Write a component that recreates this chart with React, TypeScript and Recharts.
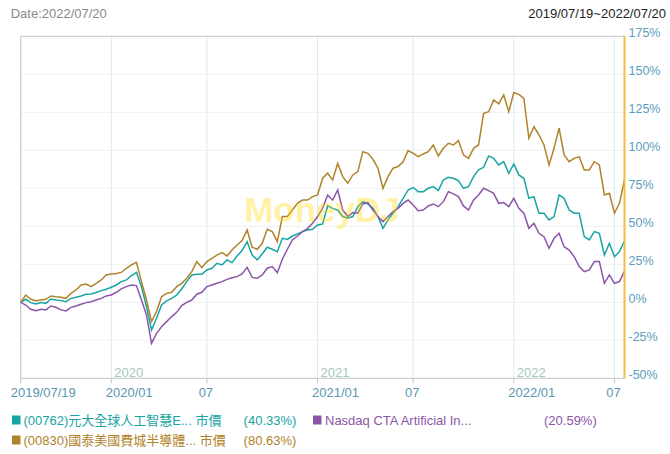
import React from "react";
import { LineChart, Line, XAxis, YAxis, CartesianGrid, ReferenceLine } from "recharts";

const dates = [
  "2019/07/19","2019/07/29","2019/08/07","2019/08/16","2019/08/26","2019/09/04","2019/09/13","2019/09/23","2019/10/02","2019/10/11",
  "2019/10/21","2019/10/30","2019/11/08","2019/11/18","2019/11/27","2019/12/06","2019/12/16","2019/12/24","2020/01/02","2020/01/13",
  "2020/01/21","2020/02/05","2020/02/13","2020/02/21","2020/03/03","2020/03/11","2020/03/19","2020/03/27","2020/04/08","2020/04/16",
  "2020/04/24","2020/05/05","2020/05/13","2020/05/21","2020/06/01","2020/06/09","2020/06/18","2020/07/01","2020/07/09","2020/07/17",
  "2020/07/27","2020/08/04","2020/08/12","2020/08/20","2020/08/28","2020/09/07","2020/09/15","2020/09/23","2020/10/05","2020/10/13",
  "2020/10/21","2020/10/29","2020/11/06","2020/11/16","2020/11/24","2020/12/02","2020/12/10","2020/12/18","2020/12/28","2021/01/04",
  "2021/01/13","2021/01/21","2021/01/29","2021/02/08","2021/02/22","2021/03/03","2021/03/11","2021/03/19","2021/03/29","2021/04/09",
  "2021/04/19","2021/04/27","2021/05/05","2021/05/13","2021/05/21","2021/05/31","2021/06/08","2021/06/17","2021/07/01","2021/07/09",
  "2021/07/19","2021/07/27","2021/08/04","2021/08/12","2021/08/20","2021/08/30","2021/09/07","2021/09/15","2021/09/27","2021/10/05",
  "2021/10/14","2021/10/22","2021/11/01","2021/11/09","2021/11/17","2021/11/26","2021/12/07","2021/12/20","2022/01/03","2022/01/12",
  "2022/01/20","2022/02/07","2022/02/15","2022/02/23","2022/03/03","2022/03/11","2022/03/21","2022/03/29","2022/04/08","2022/04/18",
  "2022/04/26","2022/05/05","2022/05/13","2022/05/23","2022/05/31","2022/06/09","2022/06/17","2022/06/24","2022/07/01","2022/07/11",
  "2022/07/20",
];

// (00762) 元大全球人工智慧ETF 市價 (%)
const teal = [
  0, 2, -0.2, -1.1, -0.2, -0.7, 2.2, 1.5, 1.1, 0.4,
  2.6, 3.3, 4.2, 5.3, 5.5, 6.4, 7.7, 8.6, 9.9, 11.4,
  13.6, 14.7, 17.5, 19.7, 10.3, -2.9, -18.2, -10.5, -1.8, 0.9,
  2.6, 4.8, 8.8, 13.6, 18, 18.4, 18.4, 21.3, 22.4, 25.7,
  24.6, 27.9, 26.1, 30.5, 34, 39.9, 31.1, 27.9, 31.8, 36.2,
  34.9, 33.3, 42.1, 41.4, 43.6, 45, 46.5, 47.6, 48, 50.9,
  51.5, 63.4, 61.8, 60.7, 56.4, 55.3, 56.4, 62.9, 66.2, 64.7,
  61.8, 56.4, 48.7, 54.2, 58.6, 62.9, 68.4, 73.9, 75.5, 72.8,
  72.8, 75, 76.1, 73.5, 80.5, 82.2, 81.6, 80, 75, 76.1,
  82.7, 87.1, 88.8, 96.3, 94.7, 90.4, 92.5, 84.9, 91, 83.8,
  81.6, 68.4, 69.5, 58.6, 58.6, 54.2, 56.4, 70.6, 68.4, 60.7,
  58.6, 58.6, 43.2, 41, 46.5, 45.4, 31.1, 38.8, 30, 33.3,
  40.33,
];

// Nasdaq CTA Artificial Intelligence Index (%)
const purple = [
  0, -1.8, -4.6, -5.5, -4.6, -5, -2.4, -3.3, -5, -5.7,
  -3.3, -2.4, -1.3, -0.2, 0.4, 1.5, 2.6, 4.2, 4.8, 6.6,
  8.8, 10.3, 11.4, 11, 1.5, -8.3, -27, -20.4, -16, -12.7,
  -9.4, -6.6, -2.2, 0, 1.5, 5.3, 6.6, 10.3, 11.4, 12.5,
  13.6, 15.1, 16.2, 16.9, 18.6, 23, 16.4, 15.8, 18, 22.4,
  23.5, 19.5, 28.3, 34.9, 41, 43.6, 46.5, 48.5, 52, 56.4,
  61.8, 70.6, 67.3, 73.9, 60.7, 56.4, 59, 58.6, 64.7, 65.6,
  60.7, 56.4, 53.1, 56.4, 59.6, 61.8, 65.1, 67.3, 64, 60.3,
  60.7, 63.4, 64.7, 62.9, 66.2, 72.8, 71.3, 69.5, 63.4, 60.7,
  67.3, 70.6, 75, 73.5, 71.7, 65.1, 65.6, 62.9, 68.4, 61.8,
  58.6, 48.7, 52, 45.4, 43.2, 35.5, 42.1, 45.4, 36.6, 34.4,
  30, 23.5, 20.2, 21.3, 26.8, 26.8, 12.5, 18, 12.5, 13.6,
  20.59,
];

// (00830) 國泰美國費城半導體ETF 市價 (%)
const brown = [
  0, 4.8, 2, 1, 1.5, 2, 4.2, 3.7, 3.3, 2.6,
  5.9, 8.1, 11.4, 12, 10.3, 12.5, 14.7, 18, 18.6, 18.9,
  19.7, 22.4, 24.6, 26.3, 13.6, 1.5, -12.7, -6.1, 3.7, 5.9,
  6.6, 10.3, 12.5, 15.8, 20.2, 26.8, 22.8, 26.8, 28.9, 31.1,
  32.7, 30.5, 34.4, 37.7, 40.6, 47.6, 36.2, 34.9, 38.8, 48,
  46.5, 39.9, 56.4, 56.4, 60.7, 65.1, 67.3, 67.3, 69.5, 70.6,
  81.6, 84.9, 80.5, 91.4, 82.7, 78.3, 83.8, 86, 99.1, 98,
  94.1, 88.2, 75, 82.7, 88.2, 89.3, 92.5, 99.8, 98, 95.8,
  97.6, 99.1, 103.5, 96.3, 101.3, 104.6, 103.5, 106.4, 96.9, 94.7,
  101.3, 103.5, 124.3, 125.4, 133.1, 130.5, 136.4, 125.4, 138, 136.8,
  134.2, 107.9, 115.6, 110.1, 103.5, 90.4, 101.3, 114.5, 96.9, 92.5,
  94.7, 95.8, 87.1, 87.1, 92.5, 90.4, 70.6, 71.7, 58.6, 65.1,
  80.63,
];

const xTicks = ["2019/07/19", "2020/01/02", "2020/07/01", "2021/01/04", "2021/07/01", "2022/01/03", "2022/07/01"];
const xTickLabels = ["2019/07/19", "2020/01", "07", "2021/01", "07", "2022/01", "07"];
const yearMarks = ["2020/01/02", "2021/01/04", "2022/01/03"];
const yearLabels = ["2020", "2021", "2022"];
const yTicks = [-50, -25, 0, 25, 50, 75, 100, 125, 150, 175];

const seriesNames = ["(00762)元大全球人工智慧E... 市價", "Nasdaq CTA Artificial In...", "(00830)國泰美國費城半導體... 市價"];
const seriesReturns = ["(40.33%)", "(20.59%)", "(80.63%)"];
const headerDate = "Date:2022/07/20";
const headerRange = "2019/07/19~2022/07/20";

const C_TEAL = "#17a5a3";
const C_PURPLE = "#8b56a8";
const C_BROWN = "#b0832b";
const FONT = "'Liberation Sans', Arial, 'Noto Sans CJK TC', sans-serif";

const data = dates.map((d, i) => ({ date: d, teal: teal[i], purple: purple[i], brown: brown[i] }));

const XTick = (props: any) => {
  const { x, y, payload } = props;
  const i = xTicks.indexOf(payload.value);
  const label = xTickLabels[i];
  let anchor = "start";
  let dx = -5.5;
  if (i === 0) dx = -10;
  else if (label.length === 2) {
    anchor = "middle";
    dx = -1;
  }
  return (
    <text x={x + dx} y={y} dy={12} textAnchor={anchor} fill="#5a97b0" fontSize={13} fontFamily={FONT}>
      {label}
    </text>
  );
};

const YTick = (props: any) => {
  const { x, y, payload } = props;
  return (
    <text x={x} y={y} dy={1} textAnchor="start" fill="#5b9dbd" fontSize={12.5} fontFamily={FONT}>
      {payload.value + "%"}
    </text>
  );
};

const YearLabel = (props: any) => {
  const { viewBox, text } = props;
  if (!viewBox) return null;
  return (
    <text x={viewBox.x + 3} y={viewBox.y + viewBox.height - 1} fill="#a6c9c1" fontSize={13} fontFamily={FONT}>
      {text}
    </text>
  );
};

export default function App() {
  return (
    <div style={{ position: "absolute", left: 0, top: 0, width: 670, height: 454, background: "#fff", fontFamily: FONT }}>
      <LineChart width={670} height={454} data={data} margin={{ top: 36.3, right: 5.5, left: 20.7, bottom: 45.7 }}>
        <CartesianGrid vertical={false} stroke="#f0f0f0" />
        <CartesianGrid horizontal={false} stroke="#d9ebf3" />
        <XAxis
          dataKey="date"
          ticks={xTicks}
          interval={0}
          height={30}
          padding={{ left: 0, right: 0 }}
          axisLine={{ stroke: "#c6c6c6" }}
          tickLine={{ stroke: "#c6c6c6" }}
          tickSize={5}
          tick={<XTick />}
        />
        <YAxis
          orientation="right"
          width={40}
          domain={[-50, 175]}
          ticks={yTicks}
          interval={0}
          allowDataOverflow
          axisLine={{ stroke: "#f2bf3c", strokeWidth: 2 }}
          tickLine={false}
          tickSize={2}
          tickMargin={2}
          tick={<YTick />}
        />
        <ReferenceLine x={dates[0]} stroke="#c6c6c6" />
        <ReferenceLine y={175} stroke="#cccccc" />
        {yearMarks.map((d, i) => (
          <ReferenceLine key={d} x={d} stroke="none" label={<YearLabel text={yearLabels[i]} />} />
        ))}
        <Line type="linear" dataKey="teal" stroke={C_TEAL} strokeWidth={1.5} dot={false} isAnimationActive={false} />
        <Line type="linear" dataKey="purple" stroke={C_PURPLE} strokeWidth={1.5} dot={false} isAnimationActive={false} />
        <Line type="linear" dataKey="brown" stroke={C_BROWN} strokeWidth={1.5} dot={false} isAnimationActive={false} />
      </LineChart>
      <svg width={670} height={454} style={{ position: "absolute", left: 0, top: 0, pointerEvents: "none" }}>
        <text x={322} y={222} textAnchor="middle" fontSize={35} fontWeight="bold" fontFamily={FONT} fill="rgba(255,218,0,0.36)">
          MoneyDJ
        </text>
        <text x={10.7} y={18} fontSize={13} fill="#8a8a8a" fontFamily={FONT}>{headerDate}</text>
        <text x={666} y={18} textAnchor="end" fontSize={13} fill="#222" fontFamily={FONT}>{headerRange}</text>
        <rect x={12} y={415.5} width={8.5} height={9} fill={C_TEAL} />
        <text x={23.5} y={424.7} fontSize={13} fill={C_TEAL} fontFamily={FONT}>{seriesNames[0]}</text>
        <text x={243.6} y={424.7} fontSize={13} fill={C_TEAL} fontFamily={FONT}>{seriesReturns[0]}</text>
        <rect x={313} y={415.5} width={8.5} height={9} fill={C_PURPLE} />
        <text x={325} y={424.7} fontSize={13} fill={C_PURPLE} fontFamily={FONT}>{seriesNames[1]}</text>
        <text x={544} y={424.7} fontSize={13} fill={C_PURPLE} fontFamily={FONT}>{seriesReturns[1]}</text>
        <rect x={12} y={435.5} width={8.5} height={9} fill={C_BROWN} />
        <text x={23.5} y={444.7} fontSize={13} fill={C_BROWN} fontFamily={FONT}>{seriesNames[2]}</text>
        <text x={243.6} y={444.7} fontSize={13} fill={C_BROWN} fontFamily={FONT}>{seriesReturns[2]}</text>
      </svg>
    </div>
  );
}
